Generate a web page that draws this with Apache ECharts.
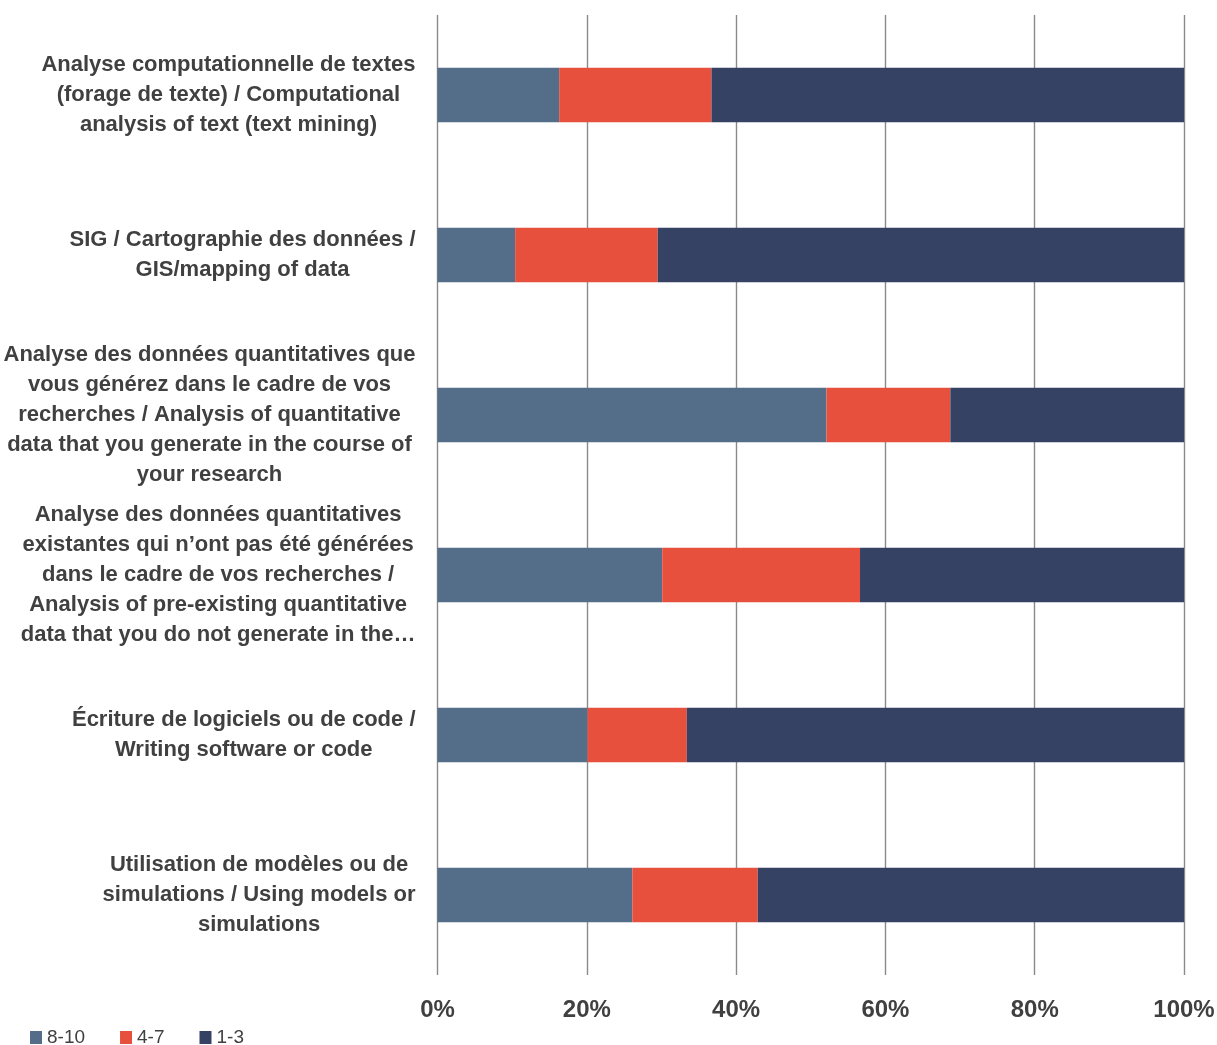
<!DOCTYPE html>
<html>
<head>
<meta charset="utf-8">
<script src="https://cdn.jsdelivr.net/npm/echarts@6/dist/echarts.min.js"></script>
<style>
html,body{margin:0;padding:0;background:#fff;}
#chart{width:1217px;height:1045px;}
</style>
</head>
<body>
<div id="chart"></div>
<script>
const categories = [
  "Analyse computationnelle de textes\n(forage de texte) / Computational\nanalysis of text (text mining)",
  "SIG / Cartographie des données /\nGIS/mapping of data",
  "Analyse des données quantitatives que\nvous générez dans le cadre de vos\nrecherches / Analysis of quantitative\ndata that you generate in the course of\nyour research",
  "Analyse des données quantitatives\nexistantes qui n’ont pas été générées\ndans le cadre de vos recherches /\nAnalysis of pre-existing quantitative\ndata that you do not generate in the…",
  "Écriture de logiciels ou de code /\nWriting software or code",
  "Utilisation de modèles ou de\nsimulations / Using models or\nsimulations"
];
const seriesNames = ["8-10", "4-7", "1-3"];
const high = [16.3, 10.4, 52.1, 30.1, 20.1, 26.1];
const mid = [20.4, 19.1, 16.6, 26.5, 13.3, 16.8];
const low = [63.3, 70.5, 31.3, 43.4, 66.6, 57.1];
const xTicks = [0, 20, 40, 60, 80, 100];

const FONT = '"Liberation Sans", Arial, sans-serif';
const colors = ['#546E8A', '#E8503E', '#364264'];

const chart = echarts.init(document.getElementById('chart'));
const values = [high, mid, low];
chart.setOption({
  animation: false,
  color: colors,
  textStyle: { fontFamily: FONT },
  grid: { left: 437.5, right: 33, top: 15, bottom: 70, containLabel: false, outerBoundsMode: 'none' },
  legend: {
    left: 30, top: 1028, padding: 0,
    itemWidth: 12, itemHeight: 13, itemGap: 35,
    icon: 'rect',
    textStyle: { fontFamily: FONT, fontSize: 19, color: '#404040' },
    data: seriesNames
  },
  xAxis: {
    type: 'value', min: xTicks[0], max: xTicks[xTicks.length - 1], interval: 20,
    axisLine: { show: false }, axisTick: { show: false },
    splitLine: { show: true, lineStyle: { color: '#8a8a8a', width: 1.4 } },
    axisLabel: {
      formatter: '{value}%', margin: 23,
      fontFamily: FONT, fontSize: 24, fontWeight: 'bold', color: '#404040'
    }
  },
  yAxis: {
    type: 'category', inverse: true, data: categories,
    axisLine: { show: false }, axisTick: { show: false },
    axisLabel: {
      interval: 0, margin: 22, align: 'right',
      formatter: function (v) {
        return v.split('\n').map(function (l) { return '{c|' + l + '}'; }).join('\n');
      },
      rich: {
        c: {
          align: 'center', fontFamily: FONT, fontSize: 22, fontWeight: 'bold',
          color: '#404040', lineHeight: 30
        }
      }
    }
  },
  series: seriesNames.map(function (n, i) {
    return {
      name: n, type: 'bar', stack: 'total', data: values[i],
      barCategoryGap: '66%'
    };
  })
});
</script>
</body>
</html>
